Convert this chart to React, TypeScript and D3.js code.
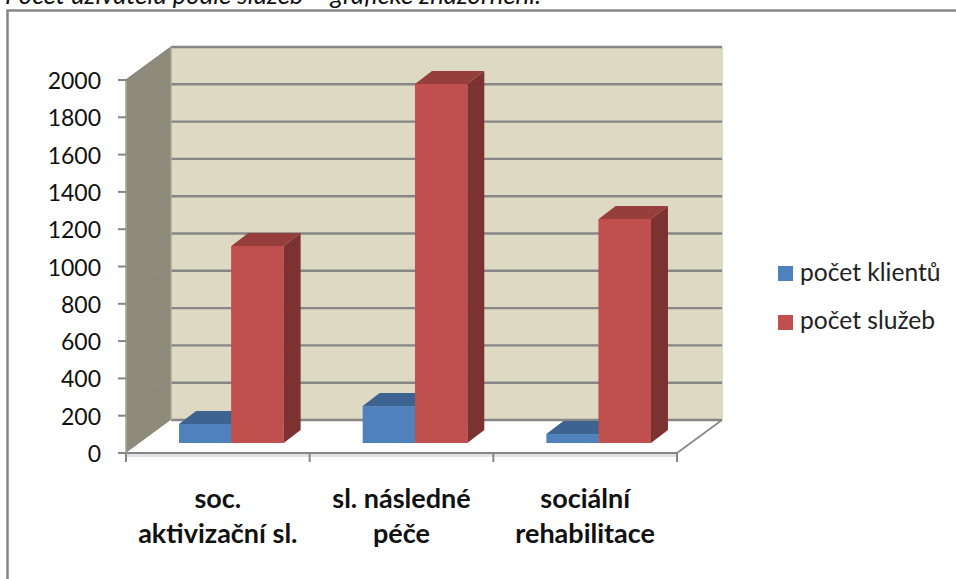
import React from "react";
import * as d3 from "d3";

const categories = [["soc.", "aktivizační sl."], ["sl. následné", "péče"], ["sociální", "rehabilitace"]];
const seriesNames = ["počet klientů", "počet služeb"];
const klienti = [102, 198, 48];
const sluzby = [1056, 1925, 1201];
const ticks = d3.range(0, 2001, 200);
const colors = [
  { front: "#4f81bd", top: "#3d6490", side: "#2f4f73" },
  { front: "#c0504d", top: "#963e3b", side: "#7b3230" },
];

const W = 956, H = 579;
const x0 = 126, x1 = 677, yBase = 453, yTop = 80;
const dx = 45, dy = 33;
const barDx0 = 13.5, barDy0 = 10, barDx = 17, barDy = 13;

export default function App() {
  const y = d3.scaleLinear().domain([0, 2000]).range([yBase, yTop]);
  const band = d3.scaleBand<number>().domain([0, 1, 2]).range([x0, x1]);
  const barW = 52.3;
  const seriesData = [klienti, sluzby];
  const scale = (yBase - yTop) / 2000;

  const bars = [0, 1, 2].flatMap((c) =>
    seriesData.map((vals, s) => {
      const cx = band(c)! + band.bandwidth() / 2 + barDx0;
      const left = cx - barW + s * barW;
      const right = left + barW;
      const bottom = yBase - barDy0;
      const top = bottom - vals[c] * scale;
      return { c, s, left, right, top, bottom };
    })
  );

  return (
    <svg width={W} height={H} style={{ position: "absolute", left: 0, top: 0, background: "#fff" }}>
      <text x={5} y={4} fontFamily="Lato, Carlito, sans-serif" fontStyle="italic" fontSize={25.7} fill="#111">
        Počet uživatelů podle služeb – grafické znázornění.
      </text>
      <path d={`M7.5 ${H} V10.5 H${W}`} fill="none" stroke="#868686" strokeWidth={2.5} />

      {/* walls */}
      <polygon points={`${x0 + dx},${yTop - dy} ${x1 + dx + 1},${yTop - dy} ${x1 + dx + 1},${yBase - dy} ${x0 + dx},${yBase - dy}`} fill="#ded9c3" />
      <polygon points={`${x0},${yTop} ${x0 + dx},${yTop - dy} ${x0 + dx},${yBase - dy} ${x0},${yBase}`} fill="#8e8b7a" />
      <polygon points={`${x0},${yBase} ${x0 + dx},${yBase - dy} ${x1 + dx},${yBase - dy} ${x1},${yBase}`} fill="#fff" />

      {/* gridlines */}
      {ticks.map((t) => (
        <g key={t}>
          {t > 0 && <line x1={x0} y1={y(t)} x2={x0 + dx} y2={y(t) - dy} stroke="#868686" strokeWidth={1.2} />}
          <line x1={x0 + dx} y1={y(t) - dy} x2={x1 + dx} y2={y(t) - dy} stroke="#868686" strokeWidth={2.4} />
        </g>
      ))}
      <line x1={x1} y1={yBase} x2={x1 + dx} y2={yBase - dy} stroke="#868686" strokeWidth={1.6} />
      <line x1={x0 + dx} y1={yTop - dy} x2={x0 + dx} y2={yBase - dy} stroke="#a8a695" strokeWidth={1.5} />

      {/* bars */}
      {bars.map((b) => {
        const col = colors[b.s];
        return (
          <g key={`${b.c}-${b.s}`}>
            <polygon points={`${b.right},${b.bottom} ${b.right + barDx},${b.bottom - barDy} ${b.right + barDx},${b.top - barDy} ${b.right},${b.top}`} fill={col.side} />
            <polygon points={`${b.left},${b.top} ${b.left + barDx},${b.top - barDy} ${b.right + barDx},${b.top - barDy} ${b.right},${b.top}`} fill={col.top} />
            <rect x={b.left} y={b.top} width={b.right - b.left} height={b.bottom - b.top} fill={col.front} />
          </g>
        );
      })}
      {bars.filter((b) => b.s === 1).map((b) => (
        <rect key={b.c} x={b.left} y={b.top} width={b.right - b.left} height={b.bottom - b.top} fill={colors[1].front} />
      ))}

      {/* axes */}
      <rect x={x0} y={yBase + 1} width={x1 - x0} height={3} fill="#e2e2e2" />
      <line x1={x0} y1={yBase} x2={x1} y2={yBase} stroke="#868686" strokeWidth={2} />
      <line x1={x0} y1={yTop} x2={x0} y2={yBase} stroke="#a8a695" strokeWidth={1.5} />
      {ticks.map((t) => (
        <g key={t}>
          <line x1={x0 - 8} y1={y(t)} x2={x0} y2={y(t)} stroke="#868686" strokeWidth={2} />
          <text x={101} y={y(t) + 9} textAnchor="end" fontFamily="Lato, Carlito, sans-serif" fontSize={23} fill="#111">{t}</text>
        </g>
      ))}
      {[0, 1, 2, 3].map((i) => {
        const tx = x0 + (i * (x1 - x0)) / 3;
        return <line key={i} x1={tx} y1={yBase} x2={tx} y2={yBase + 9} stroke="#868686" strokeWidth={2} />;
      })}
      {categories.map((lines, c) => (
        <text key={c} textAnchor="middle" fontFamily="Lato, Carlito, sans-serif" fontWeight={700} fontSize={27} fill="#111">
          {lines.map((l, i) => (
            <tspan key={i} x={band(c)! + band.bandwidth() / 2} y={508 + i * 35}>{l}</tspan>
          ))}
        </text>
      ))}

      {/* legend */}
      {seriesNames.map((n, i) => (
        <g key={n}>
          <rect x={778} y={266 + i * 49} width={15} height={15} fill={colors[i].front} />
          <text x={800} y={281 + i * 48} fontFamily="Lato, Carlito, sans-serif" fontSize={24.6} fill="#222">{n}</text>
        </g>
      ))}
    </svg>
  );
}
